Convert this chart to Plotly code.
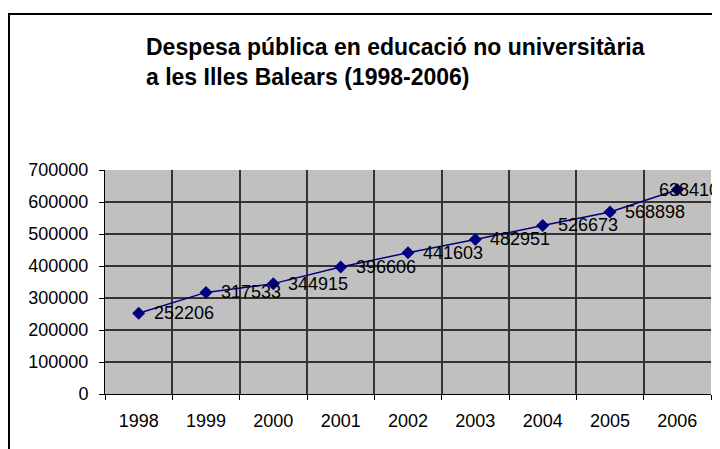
import plotly.graph_objects as go

years = ["1998", "1999", "2000", "2001", "2002", "2003", "2004", "2005", "2006"]
despesa = [252206, 317533, 344915, 396606, 441603, 482951, 526673, 568898, 638410]
label_shift = [13, 13, 13, 13, 13, 13, 13, 13, -20]

FONT = "Arial, Liberation Sans, sans-serif"
NAVY = "#000080"

# page has an 8px body margin, so the figure is 8px smaller than the window
W, H = 712, 441

fig = go.Figure()
fig.add_trace(go.Scatter(
    x=list(range(len(years))),
    y=despesa,
    mode="lines+markers",
    line=dict(color=NAVY, width=1.5),
    marker=dict(symbol="diamond", size=10, color=NAVY),
    showlegend=False,
    hoverinfo="y",
))

# data labels to the right of each point (Excel style)
for i, (val, dx) in enumerate(zip(despesa, label_shift)):
    fig.add_annotation(
        x=i, y=val, xref="x", yref="y",
        text=str(val), showarrow=False,
        xanchor="left", yanchor="middle", xshift=dx,
        font=dict(family=FONT, size=18, color="black"),
    )

# outer chart frame
pw, ph = W - 97 - 9, H - 162 - 55
fig.add_shape(
    type="rect", xref="paper", yref="paper",
    x0=(1 - 97) / pw, x1=(W + 5 - 97) / pw,
    y0=-(55 + 10) / ph, y1=(H - 6 - 55) / ph,
    line=dict(color="black", width=2), fillcolor="rgba(0,0,0,0)",
    layer="below",
)

fig.update_layout(
    width=W,
    height=H,
    margin=dict(l=97, r=9, t=162, b=55),
    paper_bgcolor="white",
    plot_bgcolor="#C0C0C0",
    font=dict(family=FONT, size=18, color="black"),
    title=dict(
        text="<b>Despesa pública en educació no universitària<br>a les Illes Balears (1998-2006)</b>",
        xref="container", yref="container",
        x=138 / W, xanchor="left",
        y=1 - 47 / H, yanchor="top",
        font=dict(family=FONT, size=23, color="black"),
    ),
    xaxis=dict(
        tickmode="array",
        tickvals=list(range(len(years))),
        ticktext=years,
        range=[-0.5, len(years) - 0.5],
        ticks="",
        showgrid=False,
        showline=True, linecolor="black", linewidth=1,
        ticklabelstandoff=10,
        zeroline=False,
        fixedrange=True,
        minor=dict(
            tickmode="array",
            tickvals=[i - 0.5 for i in range(len(years) + 1)],
            ticks="outside", ticklen=5, tickcolor="black",
            showgrid=True, gridcolor="#333333", gridwidth=1.5,
        ),
    ),
    yaxis=dict(
        range=[0, 700000],
        dtick=100000,
        tickformat="d",
        ticks="outside", ticklen=5, tickcolor="black",
        showgrid=True, gridcolor="#333333", gridwidth=1.5,
        showline=True, linecolor="black", linewidth=1,
        zeroline=False,
        ticklabelstandoff=7,
        fixedrange=True,
    ),
)

fig.write_html("out.html")
